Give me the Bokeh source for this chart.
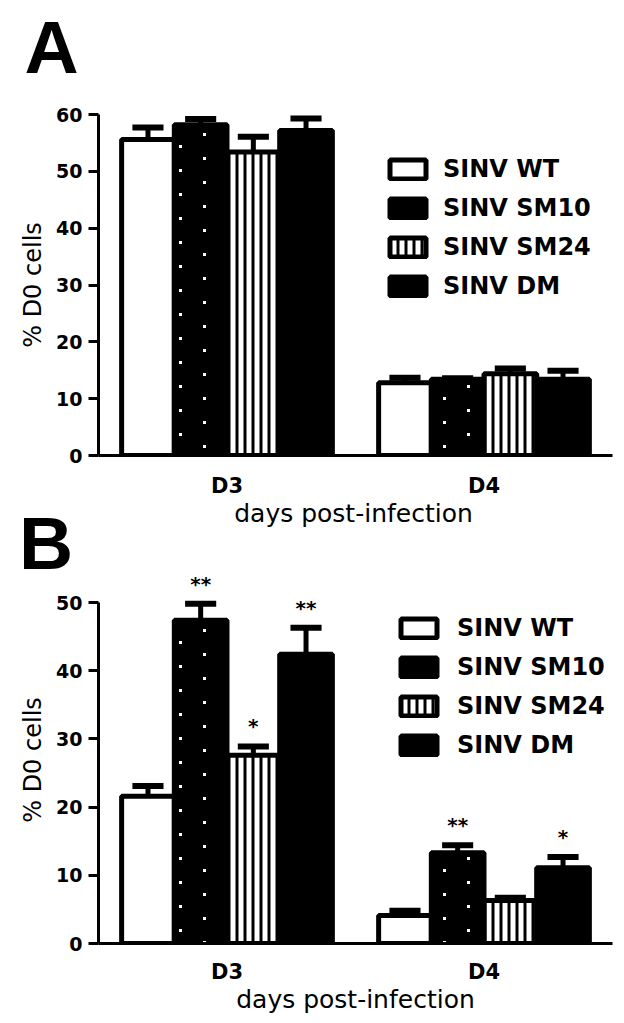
import zlib
import struct
import base64
from bokeh.plotting import figure
from bokeh.models import (FactorRange, Range1d, Legend, LegendItem, Label,
                          FixedTicker, ColumnDataSource, ImageURLTexture)
from bokeh.transform import dodge
from bokeh.layouts import column
from bokeh.embed import file_html
from bokeh.resources import INLINE
from bokeh.core.properties import value

# ---------------- data ----------------
days = ["D3", "D4"]
strains = ["SINV WT", "SINV SM10", "SINV SM24", "SINV DM"]

# Panel A: % D0 cells (mean, SEM) for D3, D4
a_wt = [55.6, 12.8]
a_sm10 = [58.2, 13.4]
a_sm24 = [53.4, 14.4]
a_dm = [57.2, 13.4]
a_wt_sem = [2.1, 0.9]
a_sm10_sem = [1.0, 0.2]
a_sm24_sem = [2.7, 0.9]
a_dm_sem = [2.1, 1.5]
a_sig = [["", ""], ["", ""], ["", ""], ["", ""]]

# Panel B
b_wt = [21.6, 4.1]
b_sm10 = [47.4, 13.3]
b_sm24 = [27.6, 6.3]
b_dm = [42.4, 11.1]
b_wt_sem = [1.5, 0.7]
b_sm10_sem = [2.4, 1.1]
b_sm24_sem = [1.3, 0.4]
b_dm_sem = [3.9, 1.6]
b_wt_sig = ["", ""]
b_sm10_sig = ["**", "**"]
b_sm24_sig = ["*", ""]
b_dm_sig = ["**", "*"]

a_ticks = [0, 10, 20, 30, 40, 50, 60]
b_ticks = [0, 10, 20, 30, 40, 50]
x_title = "days post-infection"
y_title = "% D0 cells"

# ---------------- style ----------------
FONT = "DejaVu Sans"
LETTER_FONT = "Liberation Sans"
BAR_W = 0.205
CAP_W = 0.121
offsets = [-1.5 * BAR_W, -0.5 * BAR_W, 0.5 * BAR_W, 1.5 * BAR_W]

styles = [
    dict(fill_color="white"),
    dict(fill_color="black"),
    dict(fill_color="white", hatch_pattern="vertical_line", hatch_color="black",
         hatch_scale=8, hatch_weight=3),
    dict(fill_color="black"),
]


def speck_png_url():
    """48x48 transparent tile with a few small white specks (texture only)."""
    w = h = 48
    spots = [(11, 5), (35, 17), (11, 29), (35, 41)]
    on = set()
    for sx, sy in spots:
        for dx in range(3):
            for dy in range(3):
                on.add((sx + dx, sy + dy))
    raw = bytearray()
    for y in range(h):
        raw.append(0)
        for x in range(w):
            raw += bytes([255, 255, 255, 255]) if (x, y) in on else bytes([0, 0, 0, 0])

    def chunk(t, d):
        return (struct.pack(">I", len(d)) + t + d +
                struct.pack(">I", zlib.crc32(t + d) & 0xffffffff))

    png = (b"\x89PNG\r\n\x1a\n" +
           chunk(b"IHDR", struct.pack(">IIBBBBB", w, h, 8, 6, 0, 0, 0)) +
           chunk(b"IDAT", zlib.compress(bytes(raw))) +
           chunk(b"IEND", b""))
    return "data:image/png;base64," + base64.b64encode(png).decode("ascii")


def speck_style():
    try:
        tex = ImageURLTexture(url=speck_png_url(), repetition="repeat")
        st = dict(fill_color=None, line_color=None, hatch_extra={"specks": tex},
                  hatch_pattern=value("specks"), hatch_color="white",
                  hatch_scale=48, hatch_weight=1)
        figure(output_backend="svg").vbar(x=[0], top=[1], width=1, **st)
        return st
    except Exception:
        return None


SPECKS = speck_style()


def no_align(f):
    try:
        f.frame_align = False
    except Exception:
        pass


def text_strip(height):
    f = figure(width=624, height=height, x_range=Range1d(0, 624),
               y_range=Range1d(0, height), x_axis_type=None, y_axis_type=None,
               output_backend="svg", toolbar_location=None, min_border=0)
    f.outline_line_color = None
    f.grid.visible = False
    no_align(f)
    return f


def make_panel(means, sems, sigs, ticks, y_end, height, mbt, mbb,
               legend_loc, legend_spacing, legend_standoff, xlabel,
               tick_standoff, label_standoff):
    p = figure(width=624, height=height,
               x_range=FactorRange(factors=days, range_padding=0, factor_padding=0),
               y_range=Range1d(0, y_end),
               output_backend="svg", toolbar_location=None,
               min_border_left=98, min_border_right=12,
               min_border_top=mbt, min_border_bottom=mbb)
    no_align(p)
    p.outline_line_color = None
    p.grid.visible = False
    p.background_fill_color = "white"
    p.border_fill_color = "white"

    sources = []
    items = []
    for i, strain in enumerate(strains):
        upper = [m + s for m, s in zip(means[i], sems[i])]
        src = ColumnDataSource(dict(day=days, top=means[i], upper=upper,
                                    sig=sigs[i]))
        sources.append(src)
        xs = dodge("day", offsets[i], range=p.x_range)
        r = p.vbar(x=xs, top="top", bottom=0, width=BAR_W, source=src,
                   line_color="black", line_width=5, **styles[i])
        if i == 1 and SPECKS is not None:
            p.vbar(x=xs, top="top", bottom=0, width=BAR_W * 0.9, source=src,
                   **SPECKS)
        items.append(LegendItem(label=strain, renderers=[r]))

    for i, src in enumerate(sources):
        off = offsets[i]
        p.segment(x0=dodge("day", off, range=p.x_range), y0="top",
                  x1=dodge("day", off, range=p.x_range), y1="upper",
                  source=src, line_color="black", line_width=5)
        p.segment(x0=dodge("day", off - CAP_W / 2, range=p.x_range), y0="upper",
                  x1=dodge("day", off + CAP_W / 2, range=p.x_range), y1="upper",
                  source=src, line_color="black", line_width=6, line_cap="butt")
        p.text(x=dodge("day", off, range=p.x_range), y="upper", text="sig",
               source=src, text_align="center", text_baseline="middle",
               y_offset=-20, text_font=value(FONT), text_font_style="bold",
               text_font_size="20px", text_color="black")

    legend = Legend(items=items, location=legend_loc, orientation="vertical",
                    glyph_width=45, glyph_height=24, label_standoff=legend_standoff,
                    spacing=legend_spacing, padding=0, margin=0,
                    border_line_alpha=0, background_fill_alpha=0,
                    label_text_font=FONT, label_text_font_style="bold",
                    label_text_font_size="24px", label_text_color="black")
    p.add_layout(legend)

    xa = p.xaxis[0]
    xa.axis_line_width = 3
    xa.axis_line_color = "black"
    xa.major_tick_line_color = None
    xa.minor_tick_line_color = None
    xa.major_label_text_font = FONT
    xa.major_label_text_font_style = "bold"
    xa.major_label_text_font_size = "21px"
    xa.major_label_text_color = "black"
    xa.major_label_standoff = tick_standoff
    if xlabel:
        xa.axis_label = xlabel
        xa.axis_label_text_font = FONT
        xa.axis_label_text_font_style = "normal"
        xa.axis_label_text_font_size = "25px"
        xa.axis_label_text_color = "black"
        xa.axis_label_standoff = label_standoff

    ya = p.yaxis[0]
    ya.ticker = FixedTicker(ticks=ticks)
    ya.bounds = (0, ticks[-1])
    ya.axis_line_width = 3
    ya.axis_line_color = "black"
    ya.major_tick_out = 10
    ya.major_tick_in = 0
    ya.major_tick_line_width = 3
    ya.major_tick_line_color = "black"
    ya.minor_tick_line_color = None
    ya.major_label_text_font = FONT
    ya.major_label_text_font_style = "bold"
    ya.major_label_text_font_size = "19px"
    ya.major_label_text_color = "black"
    ya.major_label_standoff = 6
    ya.axis_label = y_title
    ya.axis_label_text_font = FONT
    ya.axis_label_text_font_style = "normal"
    ya.axis_label_text_font_size = "24px"
    ya.axis_label_text_color = "black"
    ya.axis_label_standoff = 6
    return p


# strip with panel letter "A" (page rows 0..104)
la = text_strip(104)
la.add_layout(Label(x=24, y=58, text="A", text_font=LETTER_FONT,
                    text_font_style="bold", text_font_size="75px",
                    text_baseline="alphabetic", text_align="left",
                    text_color="black"))

# panel A (page rows 104..500, frame 114..456)
pa = make_panel([a_wt, a_sm10, a_sm24, a_dm],
                [a_wt_sem, a_sm10_sem, a_sm24_sem, a_dm_sem],
                a_sig, a_ticks, 60, 396, 10, 44, (287, 155), 11, 13,
                None, 12, 0)

# strip holding panel A's x-axis title and panel letter "B" (page rows 500..576)
lb = text_strip(76)
lb.add_layout(Label(x=353, y=63, text=x_title, text_font=FONT,
                    text_font_style="normal", text_font_size="25px",
                    text_baseline="alphabetic", text_align="center",
                    text_color="black"))
lb.add_layout(Label(x=18.5, y=34, text="B", text_font=LETTER_FONT,
                    text_font_style="bold", text_font_size="75px",
                    text_baseline="alphabetic", text_align="left",
                    text_color="black"))

# panel B (page rows 576..1023, frame bottom at 943)
pb = make_panel([b_wt, b_sm10, b_sm24, b_dm],
                [b_wt_sem, b_sm10_sem, b_sm24_sem, b_dm_sem],
                [b_wt_sig, b_sm10_sig, b_sm24_sig, b_dm_sig],
                b_ticks, 367 / 6.82, 447, 0, 80, (298, 184), 11, 16,
                x_title, 10, -2)

layout = column(la, pa, lb, pb, spacing=0)
open("out.html", "w").write(file_html(layout, INLINE))
